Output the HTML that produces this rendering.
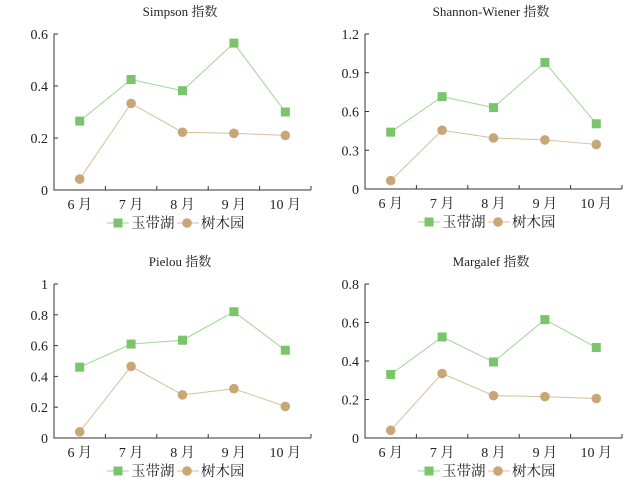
<!DOCTYPE html><html><head><meta charset="utf-8"><style>body{margin:0;background:#fff}svg text{font-family:"Liberation Serif","Noto Serif CJK SC",serif;fill:#222}</style></head><body>
<svg id="s" width="635" height="489" xmlns="http://www.w3.org/2000/svg"></svg>
<script>
const P=[
{t:"Simpson 指数",ax:54,top:34,bot:190,max:0.6,ticks:["0","0.2","0.4","0.6"],g:[.265,.425,.382,.565,.300],b:[.042,.333,.222,.218,.210]},
{t:"Shannon-Wiener 指数",ax:365,top:34,bot:189,max:1.2,ticks:["0","0.3","0.6","0.9","1.2"],g:[.44,.715,.63,.98,.505],b:[.065,.455,.395,.38,.345]},
{t:"Pielou 指数",ax:54,top:284,bot:438,max:1,ticks:["0","0.2","0.4","0.6","0.8","1"],g:[.46,.61,.635,.82,.57],b:[.04,.465,.28,.32,.205]},
{t:"Margalef 指数",ax:365,top:284,bot:438,max:0.8,ticks:["0","0.2","0.4","0.6","0.8"],g:[.33,.525,.395,.615,.47],b:[.04,.335,.22,.215,.205]}];
let h="";const m=["6 月","7 月","8 月","9 月","10 月"];
for(const p of P){const w=257,st=w/5,x0=p.ax,Y=v=>p.bot-(p.bot-p.top)*v/p.max;
h+=`<text x="${x0+126}" y="${p.top-18}" font-size="13" text-anchor="middle">${p.t}</text>`;
h+=`<path d="M${x0} ${p.top}V${p.bot}H${x0+w}" stroke="#333" fill="none"/>`;
p.ticks.forEach((t,i)=>{const y=p.bot-(p.bot-p.top)*i/(p.ticks.length-1);h+=`<path d="M${x0} ${y}h4" stroke="#333"/><text x="${x0-6}" y="${y+5}" font-size="14" text-anchor="end">${t}</text>`});
for(let i=1;i<=5;i++)h+=`<path d="M${x0+st*i} ${p.bot}v-4" stroke="#333"/>`;
m.forEach((t,i)=>h+=`<text x="${x0+st*(i+.5)}" y="${p.bot+19}" font-size="14" text-anchor="middle">${t}</text>`);
const px=i=>x0+st*(i+.5);
h+=`<polyline points="${p.g.map((v,i)=>px(i)+','+Y(v)).join(' ')}" fill="none" stroke="#9fd493"/>`;
h+=`<polyline points="${p.b.map((v,i)=>px(i)+','+Y(v)).join(' ')}" fill="none" stroke="#d8bf98"/>`;
p.g.forEach((v,i)=>h+=`<rect x="${px(i)-4.5}" y="${Y(v)-4.5}" width="9" height="9" fill="#7ac46c"/>`);
p.b.forEach((v,i)=>h+=`<circle cx="${px(i)}" cy="${Y(v)}" r="4.8" fill="#c9a676"/>`);
const ly=p.bot+33,lx=x0+53;
h+=`<path d="M${lx} ${ly}h22" stroke="#9fd493"/><rect x="${lx+6.5}" y="${ly-4.5}" width="9" height="9" fill="#7ac46c"/><text x="${lx+24}" y="${ly+5}" font-size="14.5">玉带湖</text>`;
h+=`<path d="M${lx+70} ${ly}h22" stroke="#d8bf98"/><circle cx="${lx+80}" cy="${ly}" r="4.8" fill="#c9a676"/><text x="${lx+94}" y="${ly+5}" font-size="14.5">树木园</text>`;}
document.getElementById("s").innerHTML=h;
</script></body></html>
